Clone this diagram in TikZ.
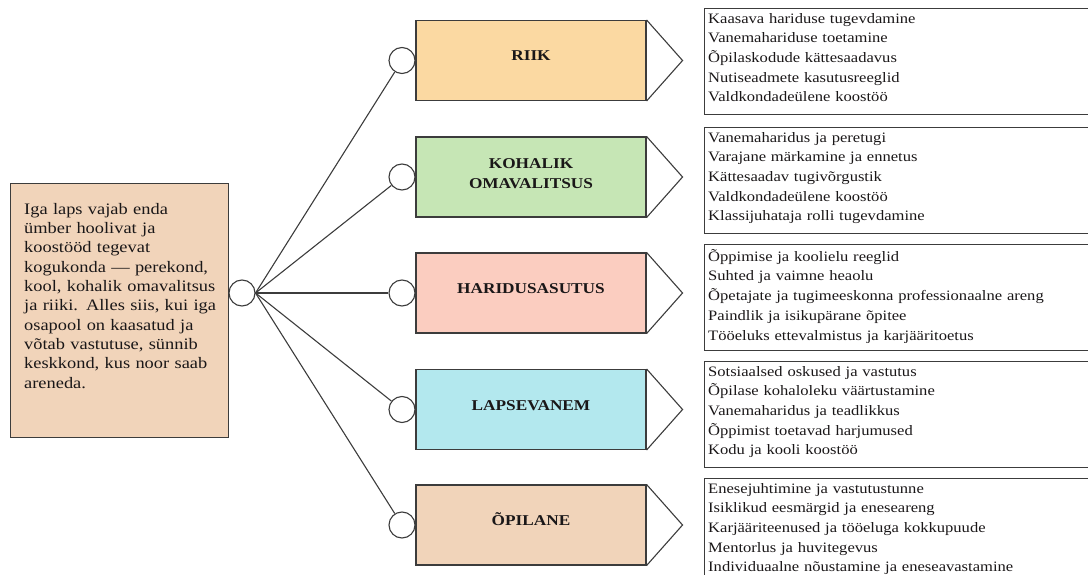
\documentclass[tikz,border=0pt]{standalone}
\usepackage{fontspec}
\setmainfont[FakeStretch=1.15]{Liberation Serif}
\definecolor{linec}{HTML}{3C3C3C}
\definecolor{textc}{HTML}{1A1718}
\definecolor{tanc}{HTML}{F1D4BA}
\definecolor{riikc}{HTML}{FBD9A2}
\definecolor{kohc}{HTML}{C6E6B5}
\definecolor{harc}{HTML}{FBCDC0}
\definecolor{lapc}{HTML}{B3E8EE}
\begin{document}
\begin{tikzpicture}[x=1pt,y=-1pt]
\tikzset{
  ln/.style={draw=linec, line width=1.1pt},
  cbox/.style={rectangle, draw=linec, line width=1.1pt, minimum width=230pt, minimum height=80pt, inner sep=0pt},
  dot/.style={circle, draw=linec, line width=1.1pt, fill=white, minimum size=26pt, inner sep=0pt},
  lab/.style={font=\fontsize{15}{20}\selectfont\bfseries, align=center, text=textc, inner sep=0pt},
  listbox/.style={draw=linec, line width=1pt, rectangle, minimum width=384pt, minimum height=106pt, anchor=north west, inner sep=0pt},
  listtxt/.style={font=\fontsize{14.4}{19.7}\selectfont, align=left, anchor=north west, inner sep=0pt, text width=378pt, text=textc}
}
\useasboundingbox (0,0) rectangle (1088,575);
\clip (0,0) rectangle (1088,575);

% left box
\node[rectangle, draw=linec, line width=1.1pt, fill=tanc, minimum width=218pt, minimum height=254pt, anchor=north west, inner sep=0pt] (lb) at (10,183) {};
\node[anchor=north west, text width=205pt, align=left, inner sep=0pt, text=textc, font=\fontsize{16}{19.3}\selectfont] (lt) at (24,203)
 {Iga laps vajab enda\\ ümber hoolivat ja\\ koostööd tegevat\\ kogukonda — perekond,\\ kool, kohalik omavalitsus\\ ja riiki. Alles siis, kui iga\\ osapool on kaasatud ja\\ võtab vastutuse, sünnib\\ keskkond, kus noor saab\\ areneda.};

% hub
\node[dot] (hub) at (242,293) {};

% colored boxes
\node[cbox, fill=riikc] (b1) at (531,60.5) {};
\node[cbox, fill=kohc] (b2) at (531,177) {};
\node[cbox, fill=harc] (b3) at (531,293) {};
\node[cbox, fill=lapc] (b4) at (531,409.5) {};
\node[cbox, fill=tanc] (b5) at (531,525) {};

\node[lab] (l1) at ([yshift=5pt]b1.center) {RIIK};
\node[lab] (l2) at ([yshift=3pt]b2.center) {KOHALIK\\OMAVALITSUS};
\node[lab] (l3) at ([yshift=4pt]b3.center) {HARIDUSASUTUS};
\node[lab] (l4) at ([yshift=4pt]b4.center) {LAPSEVANEM};
\node[lab] (l5) at ([yshift=6pt]b5.center) {ÕPILANE};

% arrow heads
\foreach \i in {1,...,5}{
  \coordinate (t\i) at ([xshift=36pt]b\i.east);
  \draw[ln, line join=miter] (b\i.north east) -- (t\i) -- (b\i.south east);
}

% small circles
\node[dot] (c1) at (402,60.5) {};
\node[dot] (c2) at (402,177) {};
\node[dot] (c3) at (402,293) {};
\node[dot] (c4) at (402,409.5) {};
\node[dot] (c5) at (402,525) {};

\foreach \i in {1,...,5}{
  \draw[ln] (hub.east) -- (c\i);
}

% list boxes
\node[listbox] (r1) at (704,8) {};
\node[listbox] (r2) at (704,127) {};
\node[listbox] (r3) at (704,244) {};
\node[listbox] (r4) at (704,361) {};
\node[listbox] (r5) at (704,478) {};

\node[listtxt] (x1) at ([shift={(4pt,-5pt)}]r1.north west) {Kaasava hariduse tugevdamine\\ Vanemahariduse toetamine\\ Õpilaskodude kättesaadavus\\ Nutiseadmete kasutusreeglid\\ Valdkondadeülene koostöö};
\node[listtxt] (x2) at ([shift={(4pt,-5pt)}]r2.north west) {Vanemaharidus ja peretugi\\ Varajane märkamine ja ennetus\\ Kättesaadav tugivõrgustik\\ Valdkondadeülene koostöö\\ Klassijuhataja rolli tugevdamine};
\node[listtxt] (x3) at ([shift={(4pt,-5pt)}]r3.north west) {Õppimise ja koolielu reeglid\\ Suhted ja vaimne heaolu\\ Õpetajate ja tugimeeskonna professionaalne areng\\ Paindlik ja isikupärane õpitee\\ Tööeluks ettevalmistus ja karjääritoetus};
\node[listtxt] (x4) at ([shift={(4pt,-5pt)}]r4.north west) {Sotsiaalsed oskused ja vastutus\\ Õpilase kohaloleku väärtustamine\\ Vanemaharidus ja teadlikkus\\ Õppimist toetavad harjumused\\ Kodu ja kooli koostöö};
\node[listtxt] (x5) at ([shift={(4pt,-5pt)}]r5.north west) {Enesejuhtimine ja vastutustunne\\ Isiklikud eesmärgid ja eneseareng\\ Karjääriteenused ja tööeluga kokkupuude\\ Mentorlus ja huvitegevus\\ Individuaalne nõustamine ja eneseavastamine};
\end{tikzpicture}
\end{document}
